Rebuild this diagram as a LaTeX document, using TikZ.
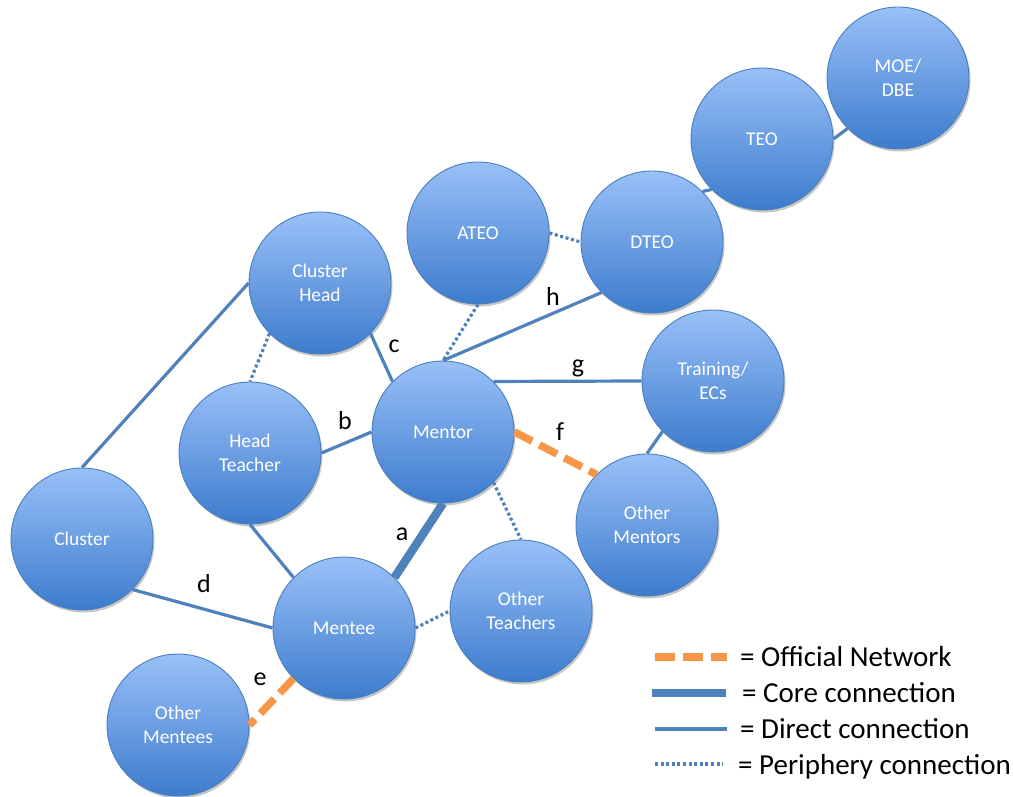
\documentclass[tikz,border=0pt]{standalone}
\usepackage{fontspec}
\setmainfont{Carlito}
\usetikzlibrary{shadows}
\definecolor{circtop}{HTML}{99C0F8}
\definecolor{circbot}{HTML}{3D7CCD}
\definecolor{circborder}{HTML}{4A7EBB}
\definecolor{linecol}{HTML}{4F81BD}
\definecolor{offorange}{HTML}{F79646}
\tikzset{
  ent/.style={circle, minimum size=142pt, inner sep=0pt, draw=circborder, line width=0.9pt,
    top color=circtop, bottom color=circbot, text=white,
    font=\fontsize{19.5}{24}\selectfont, align=center,
    drop shadow={shadow xshift=1.5pt, shadow yshift=-2.5pt, opacity=0.22, fill=black}},
  direct/.style={draw=linecol, line width=3.2pt},
  core/.style={draw=linecol, line width=8.5pt},
  periph/.style={draw=linecol, line width=3.2pt, dash pattern=on 3pt off 2.6pt},
  official/.style={draw=offorange, line width=7.5pt, dash pattern=on 20pt off 8pt},
  lbl/.style={font=\fontsize{26}{30}\selectfont, anchor=base, inner sep=0pt},
  leg/.style={font=\fontsize{29}{32}\selectfont, anchor=base west, inner sep=0pt}
}
\begin{document}
\begin{tikzpicture}[x=1pt, y=-1pt]
\useasboundingbox (0,0) rectangle (1013,797);
% nodes
\node[ent] (moe) at (898,78) {MOE/\\DBE};
\node[ent] (teo) at (762,139) {TEO};
\node[ent] (ateo) at (478,233) {ATEO};
\node[ent] (dteo) at (652,242) {DTEO};
\node[ent] (chead) at (320,283) {Cluster\\Head};
\node[ent] (train) at (713,381) {Training/\\ECs};
\node[ent] (mentor) at (443,432) {Mentor};
\node[ent] (hteach) at (250,453) {Head\\Teacher};
\node[ent] (cluster) at (82,539) {Cluster};
\node[ent] (omentors) at (647,525) {Other\\Mentors};
\node[ent] (oteach) at (521,611) {Other\\Teachers};
\node[ent] (mentee) at (344,628) {Mentee};
\node[ent] (omentees) at (178,725) {Other\\Mentees};
% connectors
\draw[direct] (teo.east) -- (moe.south west);
\draw[direct] (dteo.north east) -- (teo.south west);
\draw[periph] (ateo.east) -- (dteo.west);
\draw[periph] (ateo.south) -- (mentor.north);
\draw[direct] (dteo.south west) -- (mentor.north);
\draw[direct] (mentor.north east) -- (train.west);
\draw[official] (mentor.east) -- (omentors.north west);
\draw[direct] (train.south west) -- (omentors.north);
\draw[periph] (mentor.south east) -- (oteach.north);
\draw[core] (mentor.south) -- (mentee.north east);
\draw[periph] (mentee.east) -- (oteach.west);
\draw[direct] (hteach.south) -- (mentee.north west);
\draw[direct] (cluster.south east) -- (mentee.west);
\draw[official] (mentee.south west) -- (omentees.east);
\draw[direct] (cluster.north) -- (chead.west);
\draw[periph] (chead.south west) -- (hteach.north);
\draw[direct] (chead.south east) -- (mentor.north west);
\draw[direct] (hteach.east) -- (mentor.west);
% labels
\node[lbl] (la) at (402,540) {a};
\node[lbl] (lb) at (345,429) {b};
\node[lbl] (lc) at (394,352) {c};
\node[lbl] (ld) at (204,592) {d};
\node[lbl] (le) at (260,685) {e};
\node[lbl] (lf) at (560,440) {f};
\node[lbl] (lg) at (578,372) {g};
\node[lbl] (lh) at (553,305) {h};
% legend
\coordinate (l1a) at (655,657); \coordinate (l1b) at (727,657);
\coordinate (l2a) at (652,693); \coordinate (l2b) at (726,693);
\coordinate (l3a) at (655,729); \coordinate (l3b) at (727,729);
\coordinate (l4a) at (655,764); \coordinate (l4b) at (723,764);
\draw[official] (l1a) -- (l1b);
\draw[core] (l2a) -- (l2b);
\draw[direct] (l3a) -- (l3b);
\draw[periph] (l4a) -- (l4b);
\node[leg] (t1) at (740,666) {= Official Network};
\node[leg] (t2) at (742,702) {= Core connection};
\node[leg] (t3) at (740,738) {= Direct connection};
\node[leg] (t4) at (738,774) {= Periphery connection};
\end{tikzpicture}
\end{document}
